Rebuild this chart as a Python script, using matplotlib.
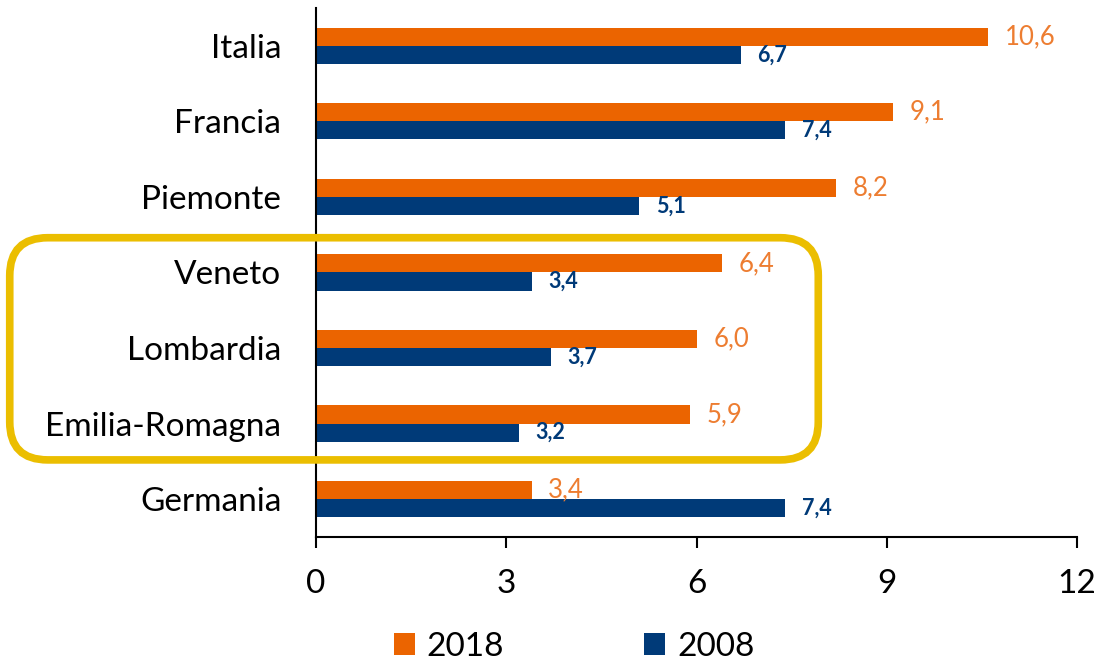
import numpy as np
import matplotlib.pyplot as plt
from matplotlib.patches import FancyBboxPatch
from matplotlib.transforms import IdentityTransform

plt.rcParams['font.family'] = ['Lato', 'DejaVu Sans']

regions = ["Italia", "Francia", "Piemonte", "Veneto", "Lombardia", "Emilia-Romagna", "Germania"]
values_2018 = [10.6, 9.1, 8.2, 6.4, 6.0, 5.9, 3.4]
values_2008 = [6.7, 7.4, 5.1, 3.4, 3.7, 3.2, 7.4]
x_ticks = [0, 3, 6, 9, 12]
highlighted = ["Veneto", "Lombardia", "Emilia-Romagna"]

orange = "#EB6400"
orange_text = "#ED7D31"
blue = "#003A78"
yellow = "#EBBE00"

fig = plt.figure(figsize=(11, 6.65), dpi=100)
ax = fig.add_axes([0.2873, 0.1925, 0.6918, 0.7955])

y = np.arange(len(regions))
h = 0.24
ax.barh(y - h / 2, values_2018, height=h, color=orange, label="2018")
ax.barh(y + h / 2, values_2008, height=h, color=blue, label="2008")

def fmt(v):
    return f"{v:.1f}".replace(".", ",")

for yi, v in zip(y, values_2018):
    ax.annotate(fmt(v), (v, yi - h / 2), xytext=(12, 0), textcoords="offset points",
                va="center", ha="left", fontsize=18.5, color=orange_text)
for yi, v in zip(y, values_2008):
    ax.annotate(fmt(v), (v, yi + h / 2), xytext=(12, 0), textcoords="offset points",
                va="center", ha="left", fontsize=15.5, color=blue, fontweight="bold")

ax.set_xlim(0, 12)
ax.set_ylim(len(regions) - 0.5, -0.5)
ax.set_xticks(x_ticks)
ax.set_xticklabels([str(t) for t in x_ticks])
ax.set_yticks(y)
ax.set_yticklabels(regions)

for s in ["top", "right"]:
    ax.spines[s].set_visible(False)
for s in ["left", "bottom"]:
    ax.spines[s].set_linewidth(1.5)
ax.tick_params(axis="y", length=0, pad=25, labelsize=24)
ax.tick_params(axis="x", length=8, width=1.5, pad=15, labelsize=24)

fig.legend(loc="center", bbox_to_anchor=(0.522, 0.027), ncol=2, frameon=False,
           fontsize=24, handlelength=0.63, handleheight=0.63, columnspacing=4.2,
           handletextpad=0.35, borderpad=0)

# highlight box around the three regions
fig.canvas.draw()
i0 = regions.index(highlighted[0])
i1 = regions.index(highlighted[-1])
x0, y0 = ax.transData.transform((-4.83, i1 + 0.48))
x1, y1 = ax.transData.transform((7.92, i0 - 0.46))
box = FancyBboxPatch((x0, y0), x1 - x0, y1 - y0, boxstyle="round,pad=0,rounding_size=38",
                     transform=IdentityTransform(), fill=False, edgecolor=yellow,
                     linewidth=5.5, clip_on=False)
fig.patches.append(box)

fig.savefig("out.png", dpi=100)
